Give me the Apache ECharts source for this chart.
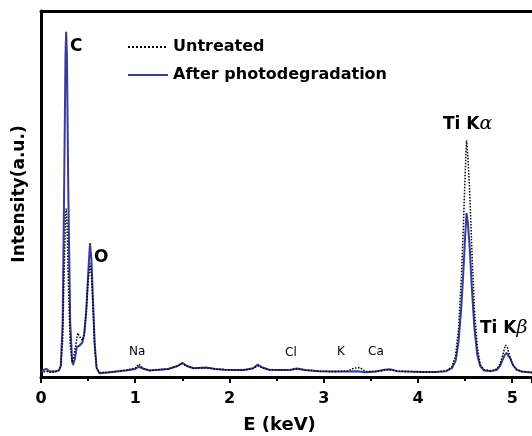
<!DOCTYPE html>
<html>
<head>
<meta charset="utf-8">
<script src="https://cdn.jsdelivr.net/npm/echarts@6/dist/echarts.min.js"></script>
<style>
  html, body { margin: 0; padding: 0; background: #fff; }
  #main { width: 532px; height: 436px; }
</style>
</head>
<body>
<div id="main"></div>
<script>
// energy (keV) and intensity (a.u., 0-100 scale)
var afterE = [0.00, 0.03, 0.06, 0.09, 0.12, 0.15, 0.19, 0.21, 0.23, 0.245, 0.26, 0.267, 0.275, 0.29, 0.31, 0.33, 0.34, 0.36, 0.38, 0.41, 0.44, 0.46, 0.48, 0.50, 0.52, 0.535, 0.55, 0.57, 0.59, 0.62, 0.70, 0.80, 0.90, 1.00, 1.04, 1.08, 1.15, 1.25, 1.35, 1.45, 1.50, 1.55, 1.62, 1.75, 1.85, 1.95, 2.05, 2.15, 2.25, 2.30, 2.35, 2.42, 2.55, 2.65, 2.72, 2.80, 2.95, 3.10, 3.25, 3.35, 3.45, 3.55, 3.65, 3.70, 3.78, 3.90, 4.05, 4.20, 4.30, 4.36, 4.40, 4.43, 4.46, 4.48, 4.50, 4.515, 4.53, 4.55, 4.57, 4.60, 4.63, 4.66, 4.70, 4.78, 4.84, 4.87, 4.90, 4.92, 4.94, 4.96, 4.98, 5.01, 5.05, 5.10, 5.21];
var afterI = [1.0, 2.0, 2.2, 1.5, 1.6, 1.5, 1.8, 3, 15, 50, 88, 94.3, 88, 50, 15, 4.5, 3.3, 5, 8.2, 8.6, 9.5, 12, 18, 28, 36.6, 32, 22, 9, 2.5, 1.0, 1.2, 1.5, 1.8, 2.2, 2.8, 2.3, 1.8, 2.0, 2.2, 3.0, 3.9, 3.0, 2.4, 2.6, 2.2, 2.0, 1.9, 1.9, 2.4, 3.4, 2.6, 2.0, 1.9, 2.0, 2.3, 1.9, 1.6, 1.5, 1.5, 1.6, 1.3, 1.5, 2.0, 2.1, 1.6, 1.5, 1.4, 1.4, 1.6, 2.4, 4.5, 9.5, 19, 28, 38, 44.8, 42, 35, 25, 13, 6, 3, 1.8, 1.6, 2.0, 3.0, 4.8, 6.0, 6.6, 6.2, 5.0, 3.2, 2.0, 1.5, 1.2];

var untrE = [0.00, 0.05, 0.10, 0.15, 0.19, 0.21, 0.23, 0.245, 0.26, 0.267, 0.275, 0.29, 0.31, 0.33, 0.345, 0.37, 0.39, 0.41, 0.44, 0.46, 0.48, 0.50, 0.52, 0.535, 0.55, 0.57, 0.59, 0.62, 0.70, 0.80, 0.90, 1.00, 1.04, 1.08, 1.15, 1.25, 1.35, 1.45, 1.50, 1.55, 1.62, 1.75, 1.85, 1.95, 2.05, 2.15, 2.25, 2.30, 2.35, 2.42, 2.55, 2.65, 2.72, 2.80, 2.95, 3.10, 3.25, 3.32, 3.38, 3.45, 3.55, 3.65, 3.70, 3.78, 3.90, 4.05, 4.20, 4.30, 4.36, 4.40, 4.43, 4.46, 4.48, 4.50, 4.515, 4.53, 4.55, 4.57, 4.60, 4.63, 4.66, 4.70, 4.78, 4.84, 4.87, 4.90, 4.92, 4.93, 4.95, 4.97, 5.00, 5.04, 5.10, 5.21];
var untrI = [1.0, 1.6, 1.3, 1.4, 1.8, 3, 10, 28, 44, 46, 43, 26, 9, 4, 5, 9, 12, 11, 10, 12, 18, 26, 31, 28, 20, 8, 2.5, 1.2, 1.2, 1.5, 1.9, 2.4, 3.5, 2.4, 1.8, 2.0, 2.2, 3.0, 3.6, 2.9, 2.4, 2.5, 2.2, 2.0, 1.9, 1.9, 2.3, 3.0, 2.5, 2.0, 1.9, 2.0, 2.2, 1.9, 1.6, 1.5, 1.6, 2.4, 2.6, 1.5, 1.5, 1.9, 2.0, 1.6, 1.5, 1.4, 1.4, 1.7, 2.8, 6, 13, 27, 40, 55, 64.7, 60, 50, 36, 18, 8, 3.5, 2.0, 1.7, 2.2, 3.5, 6.0, 8.0, 8.7, 8.0, 6.0, 3.6, 2.0, 1.5, 1.2];

var xTicks = [0, 1, 2, 3, 4, 5];

function pairs(xs, ys) {
  var out = [];
  for (var i = 0; i < xs.length; i++) out.push([xs[i], ys[i]]);
  return out;
}

var myChart = echarts.init(document.getElementById('main'));
var font = 'DejaVu Sans, Arial, sans-serif';
var greek = {
  a: { fontFamily: font, fontWeight: 'bold', fontSize: 17, fill: '#000' },
  b: { fontFamily: 'DejaVu Serif, serif', fontStyle: 'italic', fontSize: 19, fill: '#000' }
};
var option = {
  animation: false,
  grid: { left: 41, top: 11, right: 0, bottom: 59, outerBoundsMode: 'none', containLabel: false },
  legend: {
    data: ['Untreated', 'After photodegradation'],
    orient: 'vertical',
    left: 122,
    top: 34,
    itemWidth: 40,
    itemHeight: 14,
    itemGap: 12,
    itemStyle: { opacity: 0 },
    textStyle: { fontFamily: font, fontWeight: 'bold', fontSize: 16, color: '#000' }
  },
  xAxis: [{
    type: 'value',
    min: 0,
    max: 5.21,
    interval: 1,
    name: 'E (keV)',
    nameLocation: 'middle',
    nameGap: 39,
    nameTextStyle: { fontFamily: font, fontWeight: 'bold', fontSize: 18, color: '#000', padding: [0, 14, 0, 0] },
    axisLine: { lineStyle: { color: '#000', width: 3 } },
    axisTick: { length: 6, lineStyle: { color: '#000', width: 2 } },
    minorTick: { show: true, splitNumber: 2, length: 4, lineStyle: { color: '#000', width: 2 } },
    axisLabel: {
      margin: 14,
      fontFamily: font, fontWeight: 'bold', fontSize: 16, color: '#000',
      formatter: function (v) { return xTicks.indexOf(v) >= 0 ? String(v) : ''; },
      showMaxLabel: false
    },
    splitLine: { show: false }
  }, {
    type: 'value',
    position: 'top',
    min: 0,
    max: 5.21,
    axisLine: { show: true, onZero: false, lineStyle: { color: '#000', width: 3 } },
    axisTick: { show: false },
    axisLabel: { show: false },
    splitLine: { show: false }
  }],
  yAxis: {
    type: 'value',
    min: 0,
    max: 100,
    name: 'Intensity(a.u.)',
    nameLocation: 'middle',
    nameGap: 13,
    nameTextStyle: { fontFamily: font, fontWeight: 'bold', fontSize: 17, color: '#000' },
    axisLine: { show: true, lineStyle: { color: '#000', width: 3 } },
    axisTick: { show: false },
    axisLabel: { show: false },
    splitLine: { show: false }
  },
  series: [{
    name: 'After photodegradation',
    type: 'line',
    symbol: 'none',
    data: pairs(afterE, afterI),
    lineStyle: { color: '#3a3a9c', width: 2 },
    itemStyle: { color: '#3a3a9c' },
    z: 2
  }, {
    name: 'Untreated',
    type: 'line',
    symbol: 'none',
    data: pairs(untrE, untrI),
    lineStyle: { color: '#000', width: 1.5, type: 'dotted' },
    itemStyle: { color: '#000' },
    z: 3
  }],
  graphic: [
    { type: 'text', left: 70, top: 38, style: { text: 'C', font: 'bold 17px ' + font, fill: '#000' } },
    { type: 'text', left: 94, top: 249, style: { text: 'O', font: 'bold 17px ' + font, fill: '#000' } },
    { type: 'text', left: 443, top: 115, style: { text: '{a|Ti K}{b|α}', rich: greek } },
    { type: 'text', left: 480, top: 319, style: { text: '{a|Ti K}{b|β}', rich: greek } },
    { type: 'text', left: 129, top: 346, style: { text: 'Na', font: '12px ' + font, fill: '#000' } },
    { type: 'text', left: 285, top: 347, style: { text: 'Cl', font: '12px ' + font, fill: '#000' } },
    { type: 'text', left: 337, top: 346, style: { text: 'K', font: '12px ' + font, fill: '#000' } },
    { type: 'text', left: 368, top: 346, style: { text: 'Ca', font: '12px ' + font, fill: '#000' } }
  ]
};
myChart.setOption(option);
</script>
</body>
</html>
